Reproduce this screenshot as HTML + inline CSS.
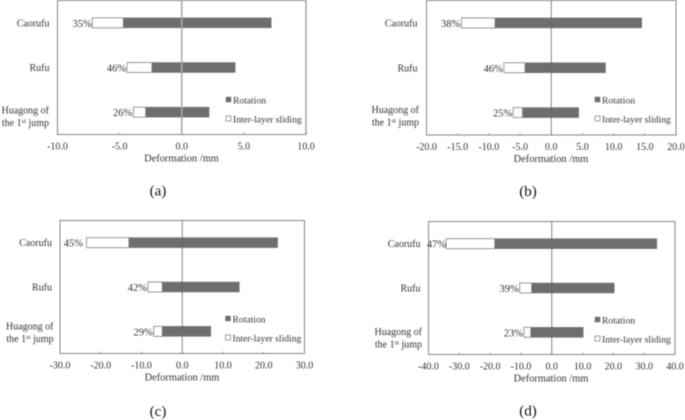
<!DOCTYPE html>
<html lang="en">
<head>
<meta charset="utf-8">
<title>Deformation charts</title>
<style>
html,body{margin:0;padding:0;background:#fff;}
body{width:685px;height:420px;overflow:hidden;}
svg{display:block;filter:blur(0.45px);}
text{font-family:"Liberation Serif",serif;fill:#333;}
</style>
</head>
<body>
<svg id="chart" width="685" height="420" viewBox="0 0 685 420" xmlns="http://www.w3.org/2000/svg"></svg>
<script>
const categories = ['Caorufu', 'Rufu', 'Huagong'];
const seriesNames = ['Rotation', 'Inter-layer sliding'];

const ticksA = [-10, -5, 0, 5, 10];
const totalLeftA = [-7.2, -4.4, -3.9];
const splitA = [-4.7, -2.4, -2.9];
const rotationRightA = [7.2, 4.3, 2.2];
const percentA = ['35%', '46%', '26%'];

const ticksB = [-20, -15, -10, -5, 0, 5, 10, 15, 20];
const totalLeftB = [-14.4, -7.6, -6.1];
const splitB = [-9.0, -4.2, -4.6];
const rotationRightB = [14.5, 8.7, 4.4];
const percentB = ['38%', '46%', '25%'];

const ticksC = [-30, -20, -10, 0, 10, 20, 30];
const totalLeftC = [-23.5, -8.4, -7.0];
const splitC = [-13.1, -4.9, -4.9];
const rotationRightC = [23.4, 14.0, 7.0];
const percentC = ['45%', '42%', '29%'];

const ticksD = [-40, -30, -20, -10, 0, 10, 20, 30, 40];
const totalLeftD = [-34.3, -10.4, -9.0];
const splitD = [-18.5, -6.5, -6.8];
const rotationRightD = [34.1, 20.3, 10.2];
const percentD = ['47%', '39%', '23%'];

const NS = 'http://www.w3.org/2000/svg';
const root = document.getElementById('chart');

function make(parent, tag, attrs, content) {
  const el = document.createElementNS(NS, tag);
  for (const key in attrs) el.setAttribute(key, attrs[key]);
  if (content !== undefined) el.textContent = content;
  parent.appendChild(el);
  return el;
}

function fmt(v) {
  return v.toFixed(1);
}

function drawPanel(id, L, R, T, B, ticks, lefts, splits, rights, pcts, opts) {
  const g = make(root, 'g', {});
  
  

  const min = ticks[0];
  const max = ticks[ticks.length - 1];
  const x = v => L + (v - min) / (max - min) * (R - L);
  const bandH = (B - T) / categories.length;
  const yMid = i => T + bandH * (i + 0.5);
  const barH = 10;

  const frame = make(g, 'rect', {x: L, y: T, width: R - L, height: B - T, fill: '#fff', stroke: '#858585', 'stroke-width': 1});
  
  

  if (opts.heavyRight) {
    const edge = make(g, 'line', {x1: R, x2: R, y1: T, y2: B, stroke: '#aaa', 'stroke-width': 1.6});
    
    
  }

  ticks.forEach(t => {
    const tick = make(g, 'line', {x1: x(t), x2: x(t), y1: B - 2, y2: B, stroke: '#858585', 'stroke-width': 0.8});
    
    
    const label = make(g, 'text', {x: x(t), y: B + 14.8, 'font-size': 10, 'text-anchor': 'middle'}, fmt(t));
    
    
  });

  categories.forEach((c, i) => {
    const y = yMid(i);
    const slide = make(g, 'rect', {x: x(lefts[i]), y: y - barH / 2, width: x(splits[i]) - x(lefts[i]), height: barH, fill: '#fff', stroke: '#808080', 'stroke-width': 0.8});
    
    
    const rot = make(g, 'rect', {x: x(splits[i]), y: y - barH / 2, width: x(rights[i]) - x(splits[i]), height: barH, fill: '#6e6e6e', stroke: '#808080', 'stroke-width': 0.6});
    
    
    const pct = make(g, 'text', {x: x(lefts[i]) - (i === 0 ? opts.pctGap : 1), y: y + 4, 'font-size': 10.5, 'text-anchor': 'end'}, pcts[i]);
    
    
  });

  const zero = make(g, 'line', {x1: x(0), x2: x(0), y1: T, y2: B, stroke: opts.zeroColor, 'stroke-width': opts.zeroWidth});
  
  

  const lx = L + opts.catX;
  const cat0 = make(g, 'text', {x: lx, y: yMid(0) + 3.5, 'font-size': 10, 'text-anchor': 'end'}, categories[0]);
  
  
  const cat1 = make(g, 'text', {x: lx, y: yMid(1) + 3.5, 'font-size': 10, 'text-anchor': 'end'}, categories[1]);
  
  
  const y2 = yMid(2) + opts.hY;
  const cat2a = make(g, 'text', {x: lx + opts.hX, y: y2, 'font-size': 10, 'text-anchor': 'end'}, 'Huagong of');
  
  
  const cat2b = make(g, 'text', {x: lx + opts.hX, y: y2 + 12.5, 'font-size': 10, 'text-anchor': 'end'});
  
  
  make(cat2b, 'tspan', {}, 'the 1');
  make(cat2b, 'tspan', {dy: -3, 'font-size': 6.5}, 'st');
  make(cat2b, 'tspan', {dy: 3}, ' jump');

  const legX = R - opts.legX;
  const legTop = T + opts.legDy;
  const sw1 = make(g, 'rect', {x: legX, y: legTop + 96.5, width: 5, height: 5, fill: '#6e6e6e', stroke: '#808080', 'stroke-width': 0.6});
  
  
  const lg1 = make(g, 'text', {x: legX + 7, y: legTop + 103, 'font-size': 9.6}, seriesNames[0]);
  
  
  const sw2 = make(g, 'rect', {x: legX, y: legTop + 115.5, width: 5, height: 5, fill: '#fff', stroke: '#666', 'stroke-width': 0.6});
  
  
  const lg2 = make(g, 'text', {x: legX + 7, y: legTop + 122, 'font-size': 9.6}, seriesNames[1]);
  
  

  const title = make(g, 'text', {x: opts.titleX, y: B + 27, 'font-size': 10.4, 'text-anchor': 'middle'}, 'Deformation /mm');
  
  

  const cap = make(g, 'text', {x: opts.capX, y: B + opts.capY, 'font-size': 15, 'text-anchor': 'middle', style: 'fill:#111'}, '(' + id + ')');
  
  
}

drawPanel('a', 57.5, 306, 0.5, 134.5, ticksA, totalLeftA, splitA, rotationRightA, percentA,
  {pctGap: 0.5, zeroColor: '#aaa', zeroWidth: 1.6, catX: -8, hX: -0.5, hY: 1.5, legX: 80, legDy: 0, titleX: 181.5, capX: 158, capY: 61, heavyRight: true});
drawPanel('b', 426.5, 676, 0.5, 135, ticksB, totalLeftB, splitB, rotationRightB, percentB,
  {pctGap: 1, zeroColor: '#666', zeroWidth: 0.8, catX: -9, hX: 1.5, hY: 0.4, legX: 81, legDy: 0, titleX: 551, capX: 528, capY: 61, heavyRight: false});
drawPanel('c', 60, 304.5, 220.5, 353.5, ticksC, totalLeftC, splitC, rotationRightC, percentC,
  {pctGap: 3.5, zeroColor: '#666', zeroWidth: 0.8, catX: -8, hX: 1.5, hY: -1.6, legX: 79, legDy: -1, titleX: 182, capX: 158, capY: 62.5, heavyRight: false});
drawPanel('d', 428.5, 675, 221.5, 354.5, ticksD, totalLeftD, splitD, rotationRightD, percentD,
  {pctGap: 0, zeroColor: '#666', zeroWidth: 0.8, catX: -8, hX: 1.5, hY: 2.7, legX: 80, legDy: -1, titleX: 551, capX: 528, capY: 61, heavyRight: false});
</script>
</body>
</html>
